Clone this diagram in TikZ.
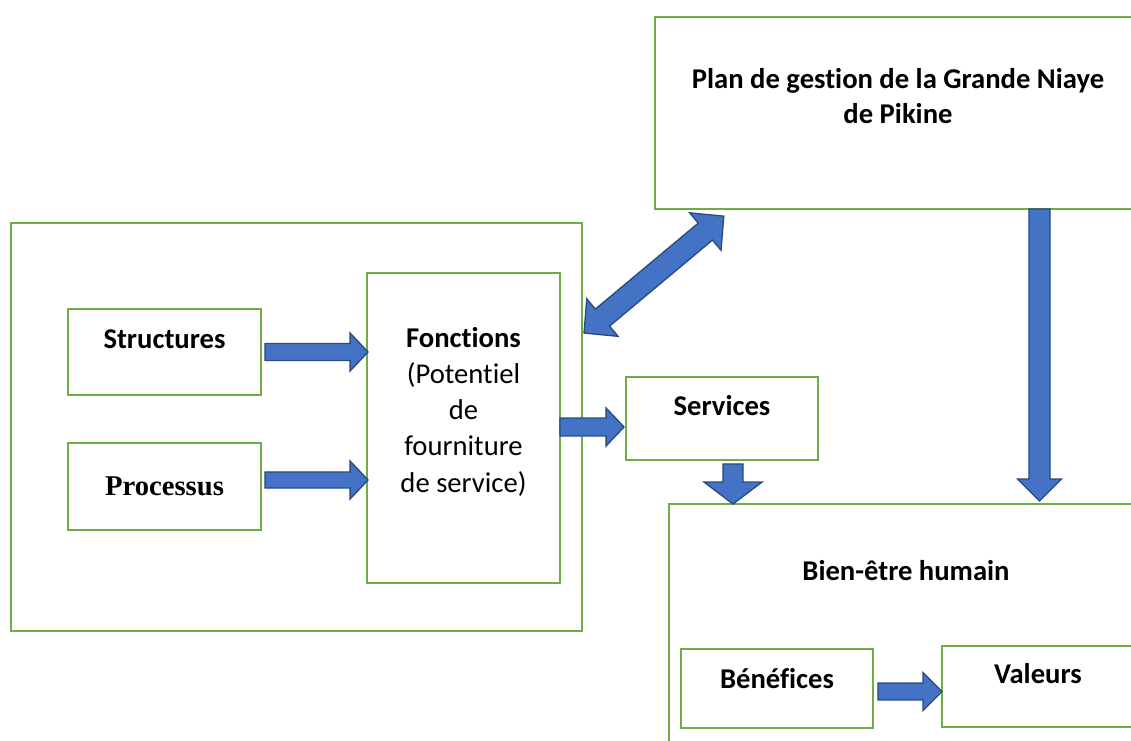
\documentclass[tikz,border=0pt]{standalone}
\usepackage{fontspec}
\setmainfont{Carlito}[Ligatures={NoCommon,NoContextual}]
\newfontfamily\timesf{Liberation Serif}
\usetikzlibrary{calc,fit}
\definecolor{boxgreen}{HTML}{70AD47}
\definecolor{arrfill}{HTML}{4472C4}
\definecolor{arrline}{HTML}{2A4A80}
\tikzset{
  box/.style={draw=boxgreen, line width=1.1pt, inner sep=0pt, rectangle},
  lbl/.style={anchor=base, inner sep=0pt, font=\fontsize{16.3}{20.5}\selectfont\bfseries},
  blockarrow/.style={fill=arrfill, draw=arrline, line width=0.75pt, line join=miter},
}
% #1 start, #2 tip, #3 shaft half width, #4 head half width, #5 head length
\newcommand\blockarr[5]{%
  \path[blockarrow] let \p1=(#1), \p2=(#2),
    \n1={atan2(\y2-\y1,\x2-\x1)}, \n2={veclen(\x2-\x1,\y2-\y1)} in
    [shift={(\x1,\y1)}, rotate=\n1]
    (0pt,-#3) -- (\n2-#5,-#3) -- (\n2-#5,-#4) -- (\n2,0pt) -- (\n2-#5,#4) -- (\n2-#5,#3) -- (0pt,#3) -- cycle;}
% double-headed: #1 tip A, #2 tip B
\newcommand\dblarr[5]{%
  \path[blockarrow] let \p1=(#1), \p2=(#2),
    \n1={atan2(\y2-\y1,\x2-\x1)}, \n2={veclen(\x2-\x1,\y2-\y1)} in
    [shift={(\x1,\y1)}, rotate=\n1]
    (0pt,0pt) -- (#5,#4) -- (#5,#3) -- (\n2-#5,#3) -- (\n2-#5,#4) -- (\n2,0pt)
    -- (\n2-#5,-#4) -- (\n2-#5,-#3) -- (#5,-#3) -- (#5,-#4) -- cycle;}
\begin{document}
\begin{tikzpicture}[x=0.02cm,y=0.02cm]
\useasboundingbox (0,0) rectangle (1131,-740);
\clip (0,0) rectangle (1131,-740);
\fill[white] (0,0) rectangle (1131,-740);
% boxes
\node[box, fit={(11,-223) (582,-631)}] (outer) {};
\node[box, fit={(68,-309) (261,-395)}] (struct) {};
\node[box, fit={(68,-443) (261,-530)}] (proc) {};
\node[box, fit={(367,-273) (560,-583)}] (fonc) {};
\node[box, fit={(626,-377) (818,-460)}] (serv) {};
\node[box, fit={(655,-17) (1141,-209)}] (plan) {};
\node[box, fit={(669,-504) (1143,-780)}] (bien) {};
\node[box, fit={(681,-649) (873,-728)}] (benef) {};
\node[box, fit={(942,-646) (1134,-727)}] (val) {};
% texts
\node[lbl] (tstruct) at (164.5,-348) {Structures};
\node[lbl, font=\fontsize{16.3}{20.5}\selectfont\timesf\bfseries] (tproc) at (164.5,-495) {Processus};
\node[lbl, align=center, font=\fontsize{16.3}{20.5}\selectfont] (tfonc) at (463.5,-492)
  {\textbf{Fonctions}\\(Potentiel\\de\\fourniture\\de service)};
\node[lbl] (tserv) at (722,-415) {Services};
\node[lbl, align=center, font=\fontsize{16.3}{19.4}\selectfont\bfseries] (tplan) at (898,-123)
  {Plan de gestion de la Grande Niaye\\de Pikine};
\node[lbl] (tbien) at (906,-580) {Bien-être humain};
\node[lbl] (tbenef) at (777,-688) {Bénéfices};
\node[lbl] (tval) at (1038,-683) {Valeurs};
% connector end points
\coordinate (a1s) at ($(struct.east)+(3,0)$);
\coordinate (a1e) at ($(fonc.west|-a1s)+(2,0)$);
\coordinate (a2s) at ($(proc.east)+(3,6.5)$);
\coordinate (a2e) at ($(fonc.west|-a2s)+(2,0)$);
\coordinate (a3s) at ($(fonc.east)+(-1,1)$);
\coordinate (a3e) at ($(serv.west|-a3s)+(-1,0)$);
\coordinate (a4s) at ($(serv.south)+(11,-3)$);
\coordinate (a4e) at ($(bien.north-|a4s)+(0,-1)$);
\coordinate (a5s) at ($(plan.south)+(141.5,1)$);
\coordinate (a5e) at ($(bien.north-|a5s)+(0,2)$);
\coordinate (a6s) at ($(benef.east)+(4,-3)$);
\coordinate (a6e) at ($(val.west|-a6s)+(1,0)$);
\coordinate (d1) at ($(outer.north east)+(1,-111)$);
\coordinate (d2) at ($(plan.south west)+(70,-6)$);
% arrows
\blockarr{a1s}{a1e}{4.8pt}{10.8pt}{10.2pt}
\blockarr{a2s}{a2e}{4.6pt}{10.8pt}{10.2pt}
\blockarr{a3s}{a3e}{5.1pt}{10.8pt}{10.2pt}
\blockarr{a4s}{a4e}{5.7pt}{16.5pt}{12.5pt}
\blockarr{a5s}{a5e}{6pt}{12.5pt}{12.5pt}
\blockarr{a6s}{a6e}{4.8pt}{10.8pt}{10.8pt}
\dblarr{d1}{d2}{6.3pt}{13.9pt}{13.7pt}
\end{tikzpicture}
\end{document}
